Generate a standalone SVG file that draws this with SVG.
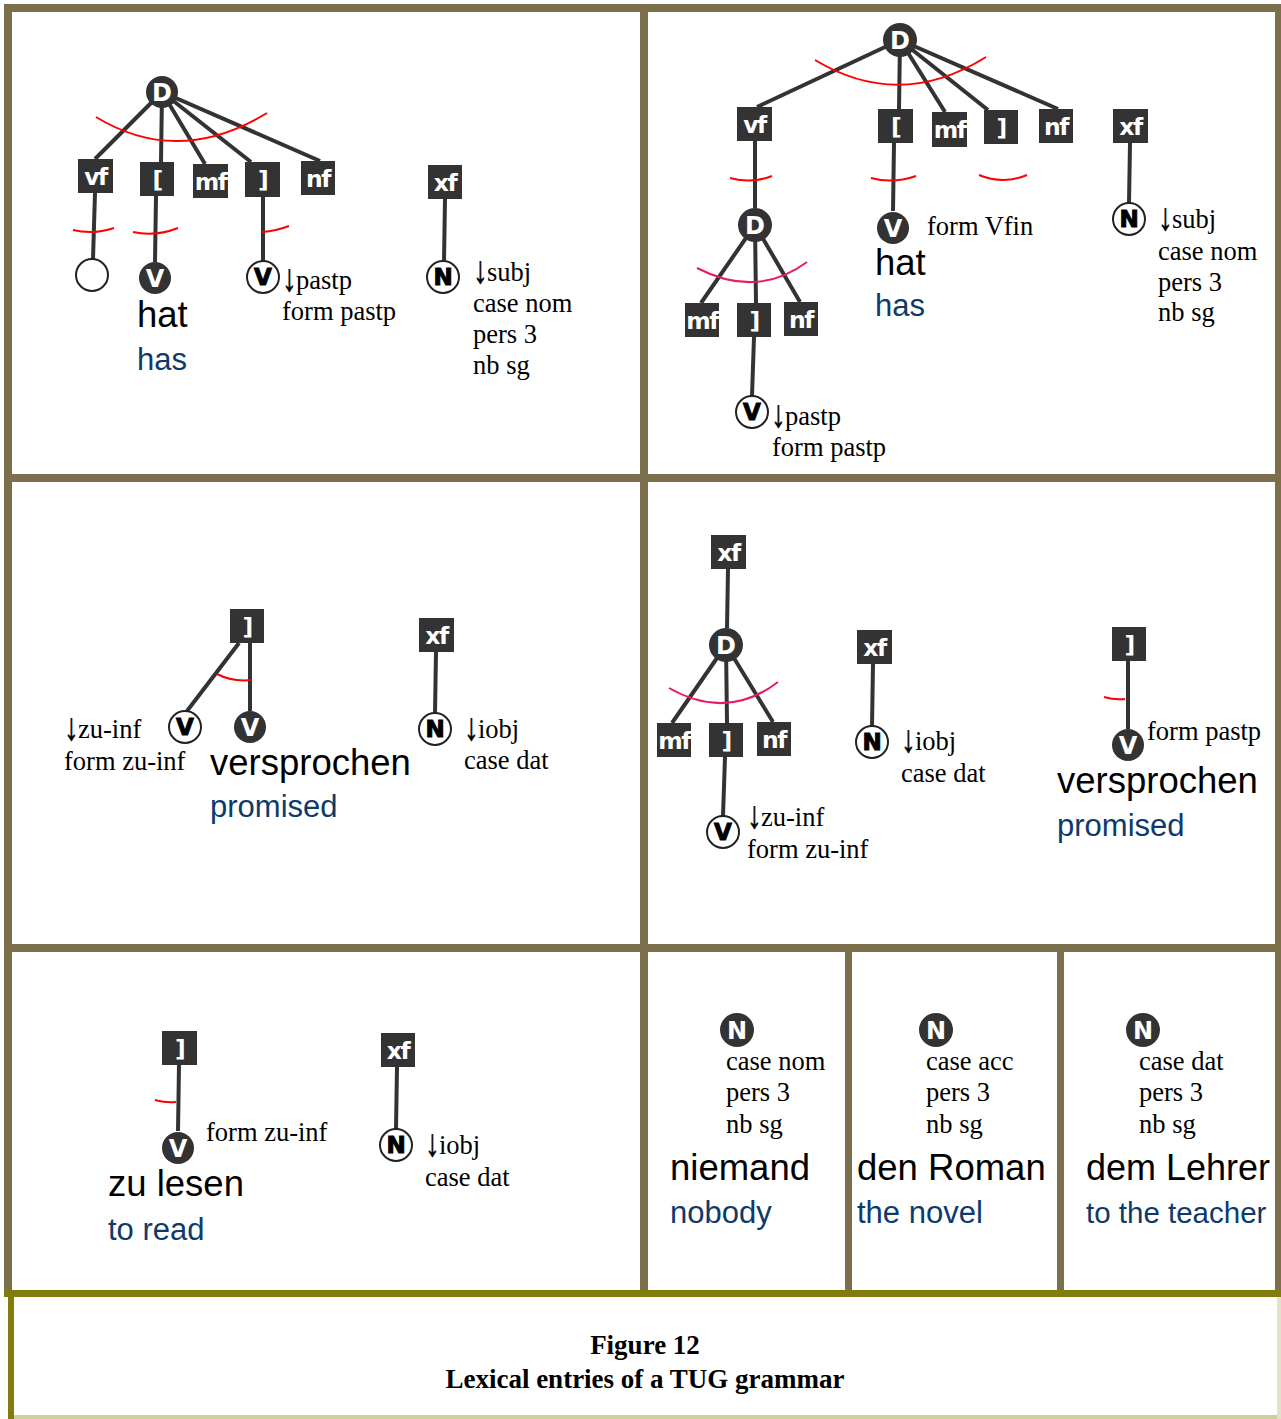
<svg xmlns="http://www.w3.org/2000/svg" width="1281" height="1419" viewBox="0 0 1281 1419">
  <style>
    .frame { fill: #7b6f4c; }
    .olive { fill: #807c0e; }
    .box { fill: #333; }
    .bt { font-family: "DejaVu Sans", sans-serif; font-weight: bold; font-size: 23.5px; fill: #fff; text-anchor: middle; letter-spacing: -1.5px; }
    .edge { stroke: #333; stroke-width: 4; fill: none; stroke-linecap: butt; }
    .arc { stroke: #ff0000; stroke-width: 2; fill: none; }
    .arcp { stroke: #e8196b; stroke-width: 2; fill: none; }
    .cf { fill: #333; }
    .co { fill: #fff; stroke: #222; stroke-width: 2; }
    .ct { font-family: "DejaVu Sans", sans-serif; font-weight: bold; font-size: 24px; fill: #fff; text-anchor: middle; }
    .cto { font-family: "DejaVu Sans", sans-serif; font-weight: bold; font-size: 23px; fill: #000; stroke: #000; stroke-width: 1; text-anchor: middle; }
    .feat { font-family: "Liberation Serif", "Times New Roman", serif; font-size: 26.5px; fill: #000; }
    .arr { font-family: "Liberation Serif", "Times New Roman", serif; font-size: 26.5px; fill: #000; stroke: #000; stroke-width: 0.4; }
    .word { font-family: "Liberation Sans", Arial, sans-serif; font-size: 36.5px; fill: #000; }
    .gloss { font-family: "Liberation Sans", Arial, sans-serif; font-size: 31px; fill: #0e3a6b; }
    .cap { font-family: "Liberation Serif", "Times New Roman", serif; font-size: 27px; font-weight: bold; fill: #000; text-anchor: middle; }
  </style>

  <rect x="0" y="0" width="1281" height="1419" fill="#fff"/>

  <!-- panel grid -->
  <g id="frame">
    <rect class="frame" x="4" y="4" width="1277" height="8"/>
    <rect class="frame" x="4" y="4" width="8" height="1290"/>
    <rect class="frame" x="1275" y="4" width="6" height="1290"/>
    <rect class="frame" x="4" y="474" width="1277" height="8"/>
    <rect class="frame" x="4" y="944" width="1277" height="8"/>
    <rect class="frame" x="640" y="4" width="8" height="1288"/>
    <rect class="frame" x="845" y="952" width="7" height="340"/>
    <rect class="frame" x="1057" y="952" width="7" height="340"/>
    <rect class="olive" x="4" y="1290" width="1277" height="7"/>
    <rect class="olive" x="8" y="1297" width="6" height="122"/>
    <rect x="14" y="1415" width="1267" height="4" fill="#cfcf9a"/>
    <rect x="1277" y="1297" width="4" height="122" fill="#e2e2c4"/>
  </g>

  <!-- connectors and constraint arcs -->
  <g id="connectors">
    <!-- top left tree -->
    <path class="edge" d="M162,92 L95,159 M162,92 L161,162 M162,92 L205,164 M162,92 L251,162 M162,92 L320,161"/>
    <path class="edge" d="M95,193 L93,259 M156,196 L155,262 M263,197 L263,261 M445,199 L444,261"/>
    <path class="arc" d="M96,117 Q178,167 267,113"/>
    <path class="arc" d="M73,230 Q93,235 114,228"/>
    <path class="arc" d="M133,232 Q155,237 178,228"/>
    <path class="arc" d="M262,232 Q276,231 289,226"/>

    <!-- top right tree -->
    <path class="edge" d="M900,40 L757,107 M900,40 L899,109 M900,40 L945,112 M900,40 L988,110 M900,40 L1058,109"/>
    <path class="edge" d="M755,141 L755,208 M894,143 L893,211 M1130,143 L1129,203"/>
    <path class="edge" d="M755,225 L701,303 M755,225 L756,303 M755,225 L800,302 M754,337 L752,396"/>
    <path class="arc" d="M815,60 Q900,111 986,57"/>
    <path class="arc" d="M730,178 Q752,184 772,176"/>
    <path class="arc" d="M871,178 Q893,184 916,176"/>
    <path class="arc" d="M979,175 Q1003,185 1027,175"/>
    <path class="arcp" d="M697,268 Q757,299 807,262"/>

    <!-- middle left -->
    <path class="edge" d="M239,643 L187,711 M250,643 L250,711 M436,652 L435,713"/>
    <path class="arc" d="M217,674 Q232,682 252,680"/>

    <!-- middle right -->
    <path class="edge" d="M728,569 L727,628 M726,645 L672,723 M726,645 L727,723 M726,645 L773,722 M725,757 L723,816"/>
    <path class="edge" d="M873,664 L872,726 M1128,661 L1128,729"/>
    <path class="arcp" d="M669,688 Q727,721 778,682"/>
    <path class="arc" d="M1104,697 Q1114,700 1125,699"/>

    <!-- bottom left -->
    <path class="edge" d="M179,1065 L178,1131 M397,1067 L396,1129"/>
    <path class="arc" d="M155,1100 Q166,1103 176,1102"/>
  </g>

  <!-- top left panel -->
  <g id="d1"><circle class="cf" cx="162" cy="92" r="16"/><text class="ct" x="162" y="100.5">D</text></g>
  <g id="vf1"><rect class="box" x="78" y="159" width="35" height="34"/><text class="bt" x="95.5" y="185">vf</text></g>
  <g id="lb1"><rect class="box" x="140" y="162" width="34" height="34"/><text class="bt" x="157" y="188">[</text></g>
  <g id="mf1"><rect class="box" x="193" y="164" width="35" height="34"/><text class="bt" x="210.5" y="190">mf</text></g>
  <g id="rb1"><rect class="box" x="245" y="162" width="35" height="35"/><text class="bt" x="262.5" y="188">]</text></g>
  <g id="nf1"><rect class="box" x="301" y="161" width="34" height="34"/><text class="bt" x="318" y="187">nf</text></g>
  <g id="xf1"><rect class="box" x="428" y="165" width="34" height="34"/><text class="bt" x="445" y="191">xf</text></g>
  <g id="empty1"><circle class="co" cx="92" cy="275" r="16"/></g>
  <g id="v1">
    <circle class="cf" cx="155" cy="278" r="16"/><text class="ct" x="155" y="286.5">V</text>
    <text class="word" x="137" y="327">hat</text>
    <text class="gloss" x="137" y="370">has</text>
  </g>
  <g id="v2">
    <circle class="co" cx="263" cy="277" r="16"/><text class="cto" x="263" y="285">V</text>
    <text class="arr" transform="translate(282,291) scale(1.1,1.45)">↓</text>
    <text class="feat" x="296" y="289">pastp</text>
    <text class="feat" x="282" y="320">form pastp</text>
  </g>
  <g id="n1">
    <circle class="co" cx="443" cy="277" r="16"/><text class="cto" x="443" y="285">N</text>
    <text class="arr" transform="translate(473,283) scale(1.1,1.45)">↓</text>
    <text class="feat" x="487" y="281">subj</text>
    <text class="feat" x="473" y="312">case nom</text>
    <text class="feat" x="473" y="343">pers 3</text>
    <text class="feat" x="473" y="374">nb sg</text>
  </g>

  <!-- top right panel -->
  <g id="d2"><circle class="cf" cx="900" cy="40" r="17"/><text class="ct" x="900" y="48.5">D</text></g>
  <g id="vf2"><rect class="box" x="737" y="107" width="35" height="34"/><text class="bt" x="754.5" y="133">vf</text></g>
  <g id="lb2"><rect class="box" x="878" y="109" width="35" height="34"/><text class="bt" x="895.5" y="135">[</text></g>
  <g id="mf2"><rect class="box" x="932" y="112" width="35" height="35"/><text class="bt" x="949.5" y="138">mf</text></g>
  <g id="rb2"><rect class="box" x="984" y="110" width="34" height="34"/><text class="bt" x="1001" y="136">]</text></g>
  <g id="nf2"><rect class="box" x="1039" y="109" width="34" height="34"/><text class="bt" x="1056" y="135">nf</text></g>
  <g id="xf2"><rect class="box" x="1113" y="109" width="35" height="34"/><text class="bt" x="1130.5" y="135">xf</text></g>
  <g id="d3"><circle class="cf" cx="755" cy="225" r="17"/><text class="ct" x="755" y="233.5">D</text></g>
  <g id="mf3"><rect class="box" x="685" y="303" width="34" height="34"/><text class="bt" x="702" y="329">mf</text></g>
  <g id="rb3"><rect class="box" x="737" y="303" width="34" height="34"/><text class="bt" x="754" y="329">]</text></g>
  <g id="nf3"><rect class="box" x="784" y="302" width="34" height="34"/><text class="bt" x="801" y="328">nf</text></g>
  <g id="v3">
    <circle class="co" cx="752" cy="412" r="16"/><text class="cto" x="752" y="420">V</text>
    <text class="arr" transform="translate(771,427) scale(1.1,1.45)">↓</text>
    <text class="feat" x="785" y="425">pastp</text>
    <text class="feat" x="772" y="456">form pastp</text>
  </g>
  <g id="v4">
    <circle class="cf" cx="893" cy="228" r="16"/><text class="ct" x="893" y="236.5">V</text>
    <text class="feat" x="927" y="235">form Vfin</text>
    <text class="word" x="875" y="275">hat</text>
    <text class="gloss" x="875" y="316">has</text>
  </g>
  <g id="n2">
    <circle class="co" cx="1129" cy="219" r="16"/><text class="cto" x="1129" y="227">N</text>
    <text class="arr" transform="translate(1158,230) scale(1.1,1.45)">↓</text>
    <text class="feat" x="1172" y="228">subj</text>
    <text class="feat" x="1158" y="260">case nom</text>
    <text class="feat" x="1158" y="291">pers 3</text>
    <text class="feat" x="1158" y="321">nb sg</text>
  </g>

  <!-- middle left panel -->
  <g id="rb4"><rect class="box" x="230" y="609" width="34" height="34"/><text class="bt" x="247" y="635">]</text></g>
  <g id="xf4"><rect class="box" x="419" y="618" width="35" height="34"/><text class="bt" x="436.5" y="644">xf</text></g>
  <g id="v5">
    <circle class="co" cx="185" cy="727" r="16"/><text class="cto" x="185" y="735">V</text>
    <text class="arr" transform="translate(64,740) scale(1.1,1.45)">↓</text>
    <text class="feat" x="78" y="738">zu-inf</text>
    <text class="feat" x="64" y="770">form zu-inf</text>
  </g>
  <g id="v6">
    <circle class="cf" cx="250" cy="727" r="16"/><text class="ct" x="250" y="735.5">V</text>
    <text class="word" x="210" y="775">versprochen</text>
    <text class="gloss" x="210" y="817">promised</text>
  </g>
  <g id="n4">
    <circle class="co" cx="435" cy="729" r="16"/><text class="cto" x="435" y="737">N</text>
    <text class="arr" transform="translate(464,740) scale(1.1,1.45)">↓</text>
    <text class="feat" x="478" y="738">iobj</text>
    <text class="feat" x="464" y="769">case dat</text>
  </g>

  <!-- middle right panel -->
  <g id="xf5"><rect class="box" x="711" y="535" width="35" height="34"/><text class="bt" x="728.5" y="561">xf</text></g>
  <g id="d5"><circle class="cf" cx="726" cy="645" r="17"/><text class="ct" x="726" y="653.5">D</text></g>
  <g id="mf5"><rect class="box" x="657" y="723" width="34" height="34"/><text class="bt" x="674" y="749">mf</text></g>
  <g id="rb5"><rect class="box" x="709" y="723" width="34" height="34"/><text class="bt" x="726" y="749">]</text></g>
  <g id="nf5"><rect class="box" x="757" y="722" width="34" height="34"/><text class="bt" x="774" y="748">nf</text></g>
  <g id="v7">
    <circle class="co" cx="723" cy="832" r="16"/><text class="cto" x="723" y="840">V</text>
    <text class="arr" transform="translate(747,828) scale(1.1,1.45)">↓</text>
    <text class="feat" x="761" y="826">zu-inf</text>
    <text class="feat" x="747" y="858">form zu-inf</text>
  </g>
  <g id="xf6"><rect class="box" x="857" y="630" width="35" height="34"/><text class="bt" x="874.5" y="656">xf</text></g>
  <g id="n6">
    <circle class="co" cx="872" cy="742" r="16"/><text class="cto" x="872" y="750">N</text>
    <text class="arr" transform="translate(901,752) scale(1.1,1.45)">↓</text>
    <text class="feat" x="915" y="750">iobj</text>
    <text class="feat" x="901" y="782">case dat</text>
  </g>
  <g id="rb7"><rect class="box" x="1112" y="627" width="34" height="34"/><text class="bt" x="1129" y="653">]</text></g>
  <g id="v8">
    <circle class="cf" cx="1128" cy="745" r="16"/><text class="ct" x="1128" y="753.5">V</text>
    <text class="feat" x="1147" y="740">form pastp</text>
    <text class="word" x="1057" y="793">versprochen</text>
    <text class="gloss" x="1057" y="836">promised</text>
  </g>

  <!-- bottom left panel -->
  <g id="rb8"><rect class="box" x="162" y="1031" width="35" height="34"/><text class="bt" x="179.5" y="1057">]</text></g>
  <g id="v9">
    <circle class="cf" cx="178" cy="1148" r="16"/><text class="ct" x="178" y="1156.5">V</text>
    <text class="feat" x="206" y="1141">form zu-inf</text>
    <text class="word" x="108" y="1196">zu lesen</text>
    <text class="gloss" x="108" y="1240">to read</text>
  </g>
  <g id="xf8"><rect class="box" x="381" y="1033" width="34" height="34"/><text class="bt" x="398" y="1059">xf</text></g>
  <g id="n8">
    <circle class="co" cx="396" cy="1145" r="16"/><text class="cto" x="396" y="1153">N</text>
    <text class="arr" transform="translate(425,1156) scale(1.1,1.45)">↓</text>
    <text class="feat" x="439" y="1154">iobj</text>
    <text class="feat" x="425" y="1186">case dat</text>
  </g>

  <!-- noun entries -->
  <g id="n9">
    <circle class="cf" cx="737" cy="1030" r="17"/><text class="ct" x="737" y="1038.5">N</text>
    <text class="feat" x="726" y="1070">case nom</text>
    <text class="feat" x="726" y="1101">pers 3</text>
    <text class="feat" x="726" y="1133">nb sg</text>
    <text class="word" x="670" y="1180">niemand</text>
    <text class="gloss" x="670" y="1223">nobody</text>
  </g>
  <g id="n10">
    <circle class="cf" cx="936" cy="1030" r="17"/><text class="ct" x="936" y="1038.5">N</text>
    <text class="feat" x="926" y="1070">case acc</text>
    <text class="feat" x="926" y="1101">pers 3</text>
    <text class="feat" x="926" y="1133">nb sg</text>
    <text class="word" x="857" y="1180">den Roman</text>
    <text class="gloss" x="857" y="1223">the novel</text>
  </g>
  <g id="n11">
    <circle class="cf" cx="1143" cy="1030" r="17"/><text class="ct" x="1143" y="1038.5">N</text>
    <text class="feat" x="1139" y="1070">case dat</text>
    <text class="feat" x="1139" y="1101">pers 3</text>
    <text class="feat" x="1139" y="1133">nb sg</text>
    <text class="word" x="1086" y="1180" style="font-size:36px">dem Lehrer</text>
    <text class="gloss" x="1086" y="1223" style="font-size:29.5px">to the teacher</text>
  </g>

  <!-- caption -->
  <g id="caption">
    <text class="cap" x="645" y="1354">Figure 12</text>
    <text class="cap" x="645" y="1388">Lexical entries of a TUG grammar</text>
  </g>
</svg>
